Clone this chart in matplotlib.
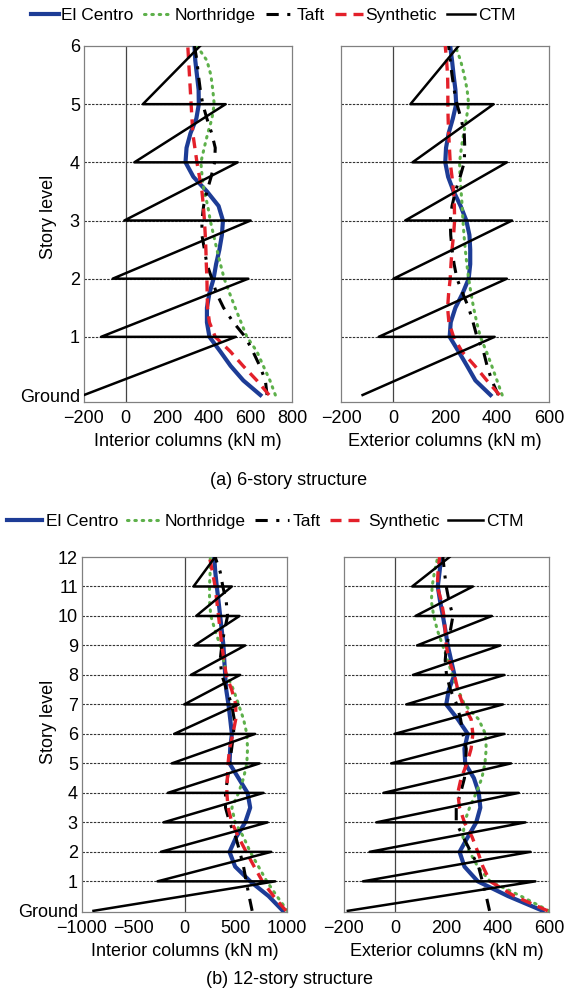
import matplotlib
matplotlib.use("Agg")
import matplotlib.pyplot as plt
from matplotlib.lines import Line2D

plt.rcParams['font.family'] = ['Liberation Sans', 'DejaVu Sans']

# ---- data ----
# 6-story: levels every quarter story
lv6 = [0, 0.25, 0.5, 0.75, 1, 1.25, 1.5, 1.75, 2, 2.25, 2.5, 2.75, 3,
       3.25, 3.5, 3.75, 4, 4.25, 4.5, 4.75, 5, 5.25, 5.5, 5.75, 6]

int6_elcentro = [648, 566, 505, 455, 403, 391, 391, 403, 423, 435, 451, 463, 468,
                 447, 391, 326, 288, 293, 312, 340, 352, 351, 343, 335, 331]
int6_northridge = [720, 694, 662, 631, 583, 555, 527, 500, 474, 456, 439, 423, 407,
                   395, 378, 368, 362, 378, 395, 415, 426, 419, 410, 391, 343]
int6_taft = [680, 672, 645, 612, 575, 518, 471, 437, 415, 391, 379, 367, 367,
             375, 391, 411, 428, 431, 414, 391, 371, 359, 350, 343, 331]
int6_synthetic = [690, 631, 565, 503, 431, 403, 394, 392, 391, 388, 386, 383, 379,
                  374, 367, 355, 343, 333, 323, 319, 315, 311, 307, 303, 299]

ext6_elcentro = [375, 317, 285, 252, 218, 222, 240, 268, 291, 297, 297, 294, 282,
                 260, 233, 212, 201, 204, 214, 230, 243, 240, 233, 227, 220]
ext6_northridge = [420, 400, 380, 359, 336, 322, 310, 300, 291, 284, 278, 273, 269,
                   266, 262, 258, 256, 263, 272, 282, 291, 285, 274, 260, 240]
ext6_taft = [405, 380, 362, 348, 323, 308, 291, 268, 246, 235, 227, 222, 220,
             227, 240, 258, 274, 276, 274, 262, 246, 235, 227, 220, 214]
ext6_synthetic = [410, 361, 315, 265, 233, 215, 210, 214, 220, 223, 227, 233, 237,
                  236, 233, 227, 220, 217, 214, 212, 211, 211, 210, 206, 201]

ctm6_levels = [0, 1, 1, 2, 2, 3, 3, 4, 4, 5, 5, 6]
ctm6_int = [-200, 530, -118, 590, -62, 601, -6, 539, 42, 481, 83, 358]
ctm6_ext = [-117, 391, -55, 438, 2, 458, 47, 438, 75, 387, 67, 252]

# 12-story: levels every half story
lv12 = [0, 0.5, 1, 1.5, 2, 2.5, 3, 3.5, 4, 4.5, 5, 5.5, 6, 6.5, 7, 7.5, 8,
        8.5, 9, 9.5, 10, 10.5, 11, 11.5, 12]

int12_elcentro = [960, 820, 641, 494, 439, 504, 592, 641, 615, 527, 439, 446, 462,
                  446, 429, 407, 397, 388, 380, 364, 348, 332, 315, 300, 290]
int12_northridge = [1005, 901, 803, 722, 641, 576, 494, 462, 527, 576, 608, 615, 608,
                    576, 527, 478, 413, 380, 348, 299, 257, 244, 244, 250, 252]
int12_taft = [660, 630, 602, 576, 540, 500, 440, 400, 400, 420, 440, 460, 478,
              485, 460, 410, 364, 348, 364, 390, 420, 407, 374, 348, 299]
int12_synthetic = [990, 868, 760, 680, 602, 527, 462, 425, 413, 418, 425, 440, 472,
                   500, 500, 460, 407, 385, 364, 348, 332, 315, 299, 272, 244]

ext12_elcentro = [576, 440, 322, 270, 251, 283, 316, 332, 326, 307, 273, 270, 283,
                  244, 199, 209, 231, 218, 205, 196, 186, 175, 166, 173, 179]
ext12_northridge = [600, 490, 370, 322, 290, 264, 270, 290, 316, 338, 350, 355, 352,
                    325, 270, 245, 222, 205, 185, 165, 150, 141, 144, 153, 166]
ext12_taft = [368, 355, 340, 325, 295, 265, 238, 238, 255, 270, 275, 277, 264,
              255, 240, 215, 200, 195, 200, 215, 225, 210, 199, 192, 186]
ext12_synthetic = [595, 465, 370, 342, 322, 300, 270, 251, 244, 257, 280, 296, 303,
                   296, 264, 244, 231, 210, 199, 195, 190, 180, 164, 167, 173]

ctm12_levels = [0, 1, 1, 2, 2, 3, 3, 4, 4, 5, 5, 6, 6, 7, 7, 8, 8, 9, 9,
                10, 10, 11, 11, 12]
ctm12_int = [-888, 885, -263, 846, -231, 810, -205, 771, -163, 732, -124, 689,
             -101, 527, -3, 543, 62, 592, 98, 537, 114, 462, 88, 299]
ctm12_ext = [-185, 547, -126, 528, -100, 508, -74, 482, -46, 452, -16, 426,
             -3, 420, 43, 426, 69, 410, 85, 377, 79, 303, 66, 212]

series_names = ["El Centro", "Northridge", "Taft", "Synthetic", "CTM"]

# ---- styles ----
BLUE = "#1d3c96"
GREEN = "#5db04a"
RED = "#e3202a"
styles = {
    "El Centro": dict(color=BLUE, lw=3.0, ls="-", zorder=3),
    "Northridge": dict(color=GREEN, lw=2.2, ls=(0, (0.5, 1.9)), zorder=4,
                       dash_capstyle="round"),
    "Taft": dict(color="black", lw=2.2, ls=(0, (4, 2.8, 1, 2.8)), zorder=4),
    "Synthetic": dict(color=RED, lw=2.4, ls=(0, (3.3, 2.1)), zorder=5),
    "CTM": dict(color="black", lw=1.8, ls="-", zorder=6),
}

FS = 13

fig = plt.figure(figsize=(5.75, 9.99), dpi=100)
W, H = 575, 999


def panel(rect, levels, curves, ctm_levels, ctm_x, xlim, xticks, ylim, yticks,
          ylabels, xlabel, show_y):
    ax = fig.add_axes(rect)
    for name, vals in zip(series_names[:4], curves):
        ax.plot(vals, levels, **styles[name])
    ax.plot(ctm_x, ctm_levels, **styles["CTM"])
    ax.axvline(0, color="#444444", lw=0.9, zorder=2)
    for y in yticks[1:-1]:
        ax.axhline(y, color="#333333", lw=0.8, ls=(0, (2.2, 1.2)), zorder=1)
    ax.set_xlim(*xlim)
    ax.set_ylim(*ylim)
    ax.set_xticks(xticks)
    ax.set_xticklabels([f"{t}".replace("-", "\u2212") for t in xticks], fontsize=FS)
    ax.set_yticks(yticks)
    if show_y:
        ax.set_yticklabels(ylabels, fontsize=FS)
    else:
        ax.set_yticklabels([])
    ax.tick_params(axis="y", length=0, pad=3)
    ax.tick_params(axis="x", length=0, pad=6)
    ax.set_xlabel(xlabel, fontsize=FS, labelpad=4)
    for sp in ax.spines.values():
        sp.set_color("#808080")
        sp.set_linewidth(0.9)
    return ax


def rect(x0, x1, y0, y1):
    return [x0 / W, 1 - y1 / H, (x1 - x0) / W, (y1 - y0) / H]


yt6 = list(range(7))
yl6 = ["Ground"] + [str(i) for i in range(1, 7)]
yt12 = list(range(13))
yl12 = ["Ground"] + [str(i) for i in range(1, 13)]

panel(rect(84, 292, 46, 402), lv6,
      [int6_elcentro, int6_northridge, int6_taft, int6_synthetic],
      ctm6_levels, ctm6_int, (-200, 800), [-200, 0, 200, 400, 600, 800],
      (-0.12, 6), yt6, yl6, "Interior columns (kN m)", True)
panel(rect(341, 549, 46, 402), lv6,
      [ext6_elcentro, ext6_northridge, ext6_taft, ext6_synthetic],
      ctm6_levels, ctm6_ext, (-200, 600), [-200, 0, 200, 400, 600],
      (-0.12, 6), yt6, yl6, "Exterior columns (kN m)", False)
panel(rect(82, 287, 557, 912), lv12,
      [int12_elcentro, int12_northridge, int12_taft, int12_synthetic],
      ctm12_levels, ctm12_int, (-1000, 1000), [-1000, -500, 0, 500, 1000],
      (-0.04, 12), yt12, yl12, "Interior columns (kN m)", True)
panel(rect(344, 549, 557, 912), lv12,
      [ext12_elcentro, ext12_northridge, ext12_taft, ext12_synthetic],
      ctm12_levels, ctm12_ext, (-200, 600), [-200, 0, 200, 400, 600],
      (-0.04, 12), yt12, yl12, "Exterior columns (kN m)", False)

fig.text(48 / W, 1 - 217 / H, "Story level", rotation=90, ha="center",
         va="center", fontsize=FS)
fig.text(48 / W, 1 - 722 / H, "Story level", rotation=90, ha="center",
         va="center", fontsize=FS)

handles = [Line2D([], [], **{k: v for k, v in styles[n].items() if k != "zorder"})
           for n in series_names]

fig.legend(handles, series_names, loc="center", bbox_to_anchor=(0.475, 1 - 15 / H),
           ncol=5, frameon=False, fontsize=12.5, handlelength=1.6,
           handletextpad=0.15, columnspacing=0.6, borderaxespad=0)
fig.legend(handles, series_names, loc="center", bbox_to_anchor=(0.462, 1 - 521 / H),
           ncol=5, frameon=False, fontsize=12.5, handlelength=2.0,
           handletextpad=0.2, columnspacing=0.5, borderaxespad=0)

fig.text(289 / W, 1 - 481 / H, "(a) 6-story structure", ha="center", va="center",
         fontsize=13)
fig.text(289 / W, 1 - 980 / H, "(b) 12-story structure", ha="center", va="center",
         fontsize=13)

fig.savefig("out.png", dpi=100)
